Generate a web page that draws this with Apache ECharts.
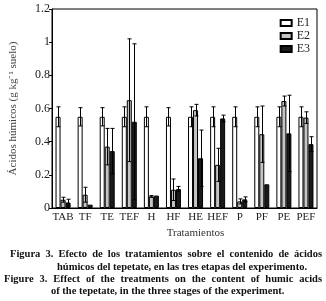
<!DOCTYPE html>
<html>
<head>
<meta charset="UTF-8">
<title>Ácidos húmicos</title>
<script src="https://cdn.jsdelivr.net/npm/echarts@6/dist/echarts.min.js"></script>
<style>
body{margin:0;background:#fff;}
#chart{width:326px;height:301px;}
</style>
</head>
<body>
<div id="chart"></div>
<script type="text/javascript">
// tratamientos y valores (g kg-1 suelo)
var cats = ['TAB','TF','TE','TEF','H','HF','HE','HEF','P','PF','PE','PEF'];
var e1 = [0.55,0.55,0.55,0.55,0.55,0.55,0.55,0.55,0.55,0.55,0.55,0.55];
var e1Err = [0.06,0.055,0.055,0.06,0.06,0.055,0.06,0.06,0.06,0.06,0.06,0.06];
var e2 = [0.05,0.08,0.37,0.65,0.07,0.11,0.59,0.26,0.04,0.445,0.645,0.545];
var e2Err = [0.015,0.045,0.11,0.37,0.005,0.065,0.035,0.1,0.015,0.17,0.03,0.035];
var e3 = [0.033,0.02,0.343,0.52,0.075,0.114,0.3,0.54,0.052,0.143,0.45,0.385];
var e3Err = [0.02,0,0.137,0.47,0,0.016,0.17,0.02,0.015,0,0.23,0.045];
var yTicks = {min:0, max:1.2, step:0.2};

var serif = 'Liberation Serif';
var capFont = 'bold 10.5px "Liberation Serif"';
var barW = 5;

function errData(vals, errs){
	var d = [];
	for(var i=0;i<vals.length;i++){
		d.push([i, vals[i]-errs[i], vals[i]+errs[i]]);
	}
	return d;
}

// bigotes de error, desplazados a la posicion de cada barra
function errRender(offset){
	return function(params, api){
		var lo = api.coord([api.value(0), api.value(1)]);
		var hi = api.coord([api.value(0), api.value(2)]);
		if(Math.abs(lo[1]-hi[1]) < 0.5) return;
		var x = Math.round(lo[0] + offset) + 0.5;
		var st = {stroke:'#000', lineWidth:1};
		return {type:'group', children:[
			{type:'line', shape:{x1:x,y1:hi[1],x2:x,y2:lo[1]}, style:st},
			{type:'line', shape:{x1:x-2,y1:hi[1],x2:x+2,y2:hi[1]}, style:st},
			{type:'line', shape:{x1:x-2,y1:lo[1],x2:x+2,y2:lo[1]}, style:st}
		]};
	};
}

function errSeries(vals, errs, offset){
	return {
		type:'custom',
		renderItem:errRender(offset),
		data:errData(vals, errs),
		encode:{x:0, y:[1,2]},
		z:5,
		silent:true
	};
}

// pie de figura: texto normal o justificado (palabra por palabra)
var ctx = document.createElement('canvas').getContext('2d');
ctx.font = capFont;
function capLine(text, x0, x1, top){
	if(!x1){
		return [{type:'text', left:x0, top:top, style:{text:text, font:capFont, fill:'#111'}}];
	}
	var words = text.split(' ');
	var total = 0;
	for(var i=0;i<words.length;i++) total += ctx.measureText(words[i]).width;
	var gap = (x1 - x0 - total)/(words.length-1);
	var out = [], x = x0;
	for(var j=0;j<words.length;j++){
		out.push({type:'text', x:x, y:top, style:{text:words[j], font:capFont, fill:'#111'}});
		x += ctx.measureText(words[j]).width + gap;
	}
	return out;
}

var caption = [].concat(
	capLine('Figura 3. Efecto de los tratamientos sobre el contenido de ácidos', 10, 322, 249),
	capLine('húmicos del tepetate, en las tres etapas del experimento.', 57, 0, 262),
	capLine('Figure 3. Effect of the treatments on the content of humic acids', 4, 322, 274),
	capLine('of the tepetate, in the three stages of the experiment.', 51, 0, 286)
);

var mychart = echarts.init(document.getElementById('chart'));
var option = {
	backgroundColor:'#fff',
	animation:false,
	grid:{left:45, right:9, top:9, bottom:93, show:true, borderColor:'#000', borderWidth:1},
	legend:{
		data:['E1','E2','E3'],
		orient:'vertical',
		right:11, top:12,
		itemWidth:11, itemHeight:6, itemGap:1,
		icon:'rect',
		textStyle:{fontFamily:serif, fontSize:12, color:'#222'}
	},
	xAxis:{
		type:'category',
		data:cats,
		name:'Tratamientos',
		nameLocation:'middle',
		nameGap:20,
		nameTextStyle:{fontFamily:serif, fontSize:11, color:'#333', padding:[0,0,0,22]},
		axisLine:{lineStyle:{color:'#000', width:1}},
		axisTick:{length:5, lineStyle:{color:'#000'}},
		axisLabel:{fontFamily:serif, fontSize:11, color:'#222', margin:4, interval:0}
	},
	yAxis:{
		type:'value',
		min:yTicks.min, max:yTicks.max, interval:yTicks.step,
		name:'Ácidos húmicos (g kg⁻¹ suelo)',
		nameLocation:'middle',
		nameGap:33,
		nameTextStyle:{fontFamily:serif, fontSize:11, color:'#444'},
		splitLine:{show:false},
		axisLine:{show:true, lineStyle:{color:'#000', width:1}},
		axisTick:{show:true, length:3, lineStyle:{color:'#000'}},
		axisLabel:{fontFamily:serif, fontSize:12, color:'#222', margin:2}
	},
	series:[
		{name:'E1', type:'bar', data:e1, barWidth:barW, barGap:'0%',
			itemStyle:{color:'#fff', borderColor:'#000', borderWidth:1}},
		{name:'E2', type:'bar', data:e2, barWidth:barW,
			itemStyle:{color:'#c4c4c4', borderColor:'#000', borderWidth:1}},
		{name:'E3', type:'bar', data:e3, barWidth:barW,
			itemStyle:{color:'#1a1a1a', borderColor:'#000', borderWidth:1}},
		errSeries(e1, e1Err, -barW),
		errSeries(e2, e2Err, 0),
		errSeries(e3, e3Err, barW)
	],
	graphic:caption
};
mychart.setOption(option);
</script>
</body>
</html>
